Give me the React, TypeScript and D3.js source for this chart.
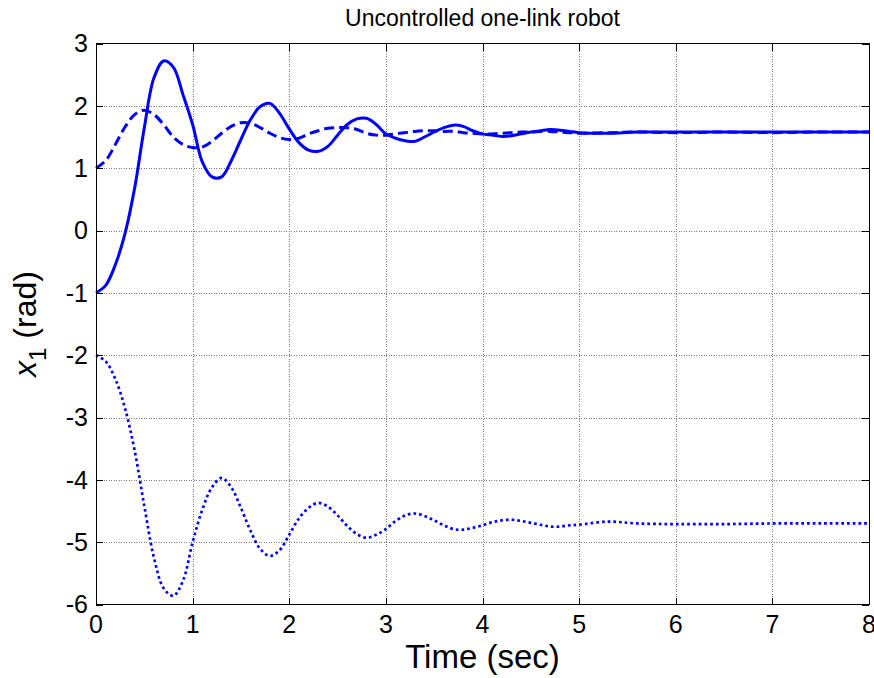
import React, { useEffect, useRef } from "react";
import * as d3 from "d3";

// sample times (sec)
const time = [
  0, 0.1, 0.2, 0.3, 0.4, 0.5, 0.6, 0.7, 0.8, 0.9,
  1.0, 1.1, 1.2, 1.3, 1.4, 1.5, 1.6, 1.7, 1.8, 1.9,
  2.0, 2.1, 2.2, 2.3, 2.4, 2.5, 2.6, 2.7, 2.8, 2.9,
  3.0, 3.1, 3.2, 3.3, 3.4, 3.5, 3.6, 3.7, 3.8, 3.9,
  4.0, 4.1, 4.2, 4.3, 4.4, 4.5, 4.6, 4.7, 4.8, 4.9,
  5.0, 5.3, 5.6, 6.0, 6.5, 7.0, 7.5, 8.0,
];

// x1 starting at -1 (solid)
const x1Solid = [
  -1.0, -0.88, -0.55, -0.05, 0.68, 1.65, 2.45, 2.72, 2.62, 2.18,
  1.7, 1.1, 0.86, 0.86, 1.12, 1.46, 1.78, 1.99, 2.04, 1.88,
  1.63, 1.41, 1.29, 1.27, 1.35, 1.53, 1.7, 1.79, 1.8, 1.7,
  1.55, 1.48, 1.44, 1.43, 1.5, 1.58, 1.65, 1.69, 1.67, 1.6,
  1.55, 1.53, 1.51, 1.52, 1.55, 1.58, 1.6, 1.62, 1.61, 1.59,
  1.57, 1.56, 1.58, 1.58, 1.58, 1.58, 1.58, 1.58,
];

// x1 starting at 1 (dashed)
const x1Dashed = [
  1.0, 1.12, 1.38, 1.66, 1.86, 1.93, 1.86, 1.7, 1.5, 1.38,
  1.33, 1.34, 1.43, 1.56, 1.67, 1.73, 1.72, 1.65, 1.56, 1.49,
  1.46, 1.48, 1.55, 1.6, 1.64, 1.65, 1.65, 1.62, 1.56, 1.53,
  1.53, 1.55, 1.57, 1.59, 1.6, 1.6, 1.59, 1.59, 1.57, 1.56,
  1.55, 1.55, 1.56, 1.57, 1.58, 1.58, 1.59, 1.59, 1.58, 1.57,
  1.56, 1.57, 1.58, 1.57, 1.58, 1.57, 1.58, 1.58,
];

// x1 starting at -2 (dotted)
const x1Dotted = [
  -2.0, -2.1, -2.38, -2.85, -3.53, -4.42, -5.25, -5.74, -5.86, -5.62,
  -5.0, -4.48, -4.12, -3.97, -4.12, -4.45, -4.82, -5.11, -5.22, -5.13,
  -4.88, -4.62, -4.45, -4.37, -4.43, -4.57, -4.74, -4.87, -4.93, -4.88,
  -4.79, -4.66, -4.57, -4.54, -4.58, -4.65, -4.73, -4.79, -4.8, -4.77,
  -4.73, -4.68, -4.65, -4.64, -4.66, -4.69, -4.72, -4.75, -4.75, -4.73,
  -4.72, -4.67, -4.7, -4.71, -4.71, -4.7, -4.7, -4.7,
];

const xTicks = [0, 1, 2, 3, 4, 5, 6, 7, 8];
const yTicks = [-6, -5, -4, -3, -2, -1, 0, 1, 2, 3];

const series = [
  { values: x1Solid, dash: null, width: 3 },
  { values: x1Dashed, dash: "10,5", width: 3 },
  { values: x1Dotted, dash: "2.7,3", width: 2.7 },
];

export default function App() {
  const svgRef = useRef<SVGSVGElement>(null);

  useEffect(() => {
    const width = 874;
    const height = 678;
    const left = 96;
    const right = 869;
    const top = 43.5;
    const bottom = 604.5;
    const font = "Arial, 'Liberation Sans', Helvetica, sans-serif";

    const svg = d3.select(svgRef.current);
    svg.selectAll("*").remove();
    svg.attr("width", width).attr("height", height);

    svg.append("rect").attr("width", width).attr("height", height).attr("fill", "#fff");

    const x = d3.scaleLinear().domain([0, 8]).range([left, right]);
    const y = d3.scaleLinear().domain([-6, 3]).range([bottom, top]);

    // grid
    const grid = svg.append("g").attr("stroke", "#7a7a7a").attr("stroke-width", 1)
      .attr("stroke-dasharray", "1,1.5").attr("shape-rendering", "crispEdges");
    xTicks.slice(1, -1).forEach((t) => {
      grid.append("line").attr("x1", Math.round(x(t)) + 0.5).attr("x2", Math.round(x(t)) + 0.5)
        .attr("y1", top).attr("y2", bottom);
    });
    yTicks.slice(1, -1).forEach((t) => {
      grid.append("line").attr("y1", Math.round(y(t)) + 0.5).attr("y2", Math.round(y(t)) + 0.5)
        .attr("x1", left).attr("x2", right);
    });

    // curves
    const line = d3.line<number>()
      .x((d, i) => x(time[i]))
      .y((d) => y(d))
      .curve(d3.curveCatmullRom.alpha(0.5));

    series.forEach((s) => {
      const p = svg.append("path")
        .attr("d", line(s.values))
        .attr("fill", "none")
        .attr("stroke", "#0000ff")
        .attr("stroke-width", s.width)
        .attr("stroke-linejoin", "round");
      if (s.dash) p.attr("stroke-dasharray", s.dash);
    });

    // axes box with inward ticks on every side
    const axis = svg.append("g").attr("stroke", "#000").attr("stroke-width", 1)
      .attr("shape-rendering", "crispEdges");
    axis.append("rect").attr("x", left).attr("y", top)
      .attr("width", right - left).attr("height", bottom - top).attr("fill", "none");
    const tl = 7;
    xTicks.forEach((t) => {
      const px = Math.round(x(t)) + 0.5;
      axis.append("line").attr("x1", px).attr("x2", px).attr("y1", bottom).attr("y2", bottom - tl);
      axis.append("line").attr("x1", px).attr("x2", px).attr("y1", top).attr("y2", top + tl);
    });
    yTicks.forEach((t) => {
      const py = Math.round(y(t)) + 0.5;
      axis.append("line").attr("y1", py).attr("y2", py).attr("x1", left).attr("x2", left + tl);
      axis.append("line").attr("y1", py).attr("y2", py).attr("x1", right).attr("x2", right - tl);
    });

    // tick labels
    svg.append("g").selectAll("text").data(xTicks).enter().append("text")
      .attr("x", (d) => x(d)).attr("y", 633)
      .attr("text-anchor", "middle")
      .style("font-family", font).style("font-size", "25px")
      .text((d) => String(d));

    svg.append("g").selectAll("text").data(yTicks).enter().append("text")
      .attr("x", 88).attr("y", (d) => y(d))
      .attr("dy", "0.35em")
      .attr("text-anchor", "end")
      .style("font-family", font).style("font-size", "25px")
      .text((d) => String(d));

    // title
    svg.append("text")
      .attr("x", (left + right) / 2).attr("y", 26)
      .attr("text-anchor", "middle")
      .style("font-family", font).style("font-size", "23px")
      .text("Uncontrolled one-link robot");

    // x label
    svg.append("text")
      .attr("x", (left + right) / 2).attr("y", 668)
      .attr("text-anchor", "middle")
      .style("font-family", font).style("font-size", "33px")
      .text("Time (sec)");

    // y label
    const yl = svg.append("text")
      .attr("transform", `translate(36,${(top + bottom) / 2}) rotate(-90)`)
      .attr("text-anchor", "middle")
      .style("font-family", font).style("font-size", "32px");
    yl.append("tspan").style("font-style", "italic").text("x");
    yl.append("tspan").attr("dy", 10).style("font-size", "24px").text("1");
    yl.append("tspan").attr("dy", -10).text(" (rad)");
  }, []);

  return (
    <svg ref={svgRef} style={{ position: "absolute", left: 0, top: 0, display: "block" }}></svg>
  );
}
